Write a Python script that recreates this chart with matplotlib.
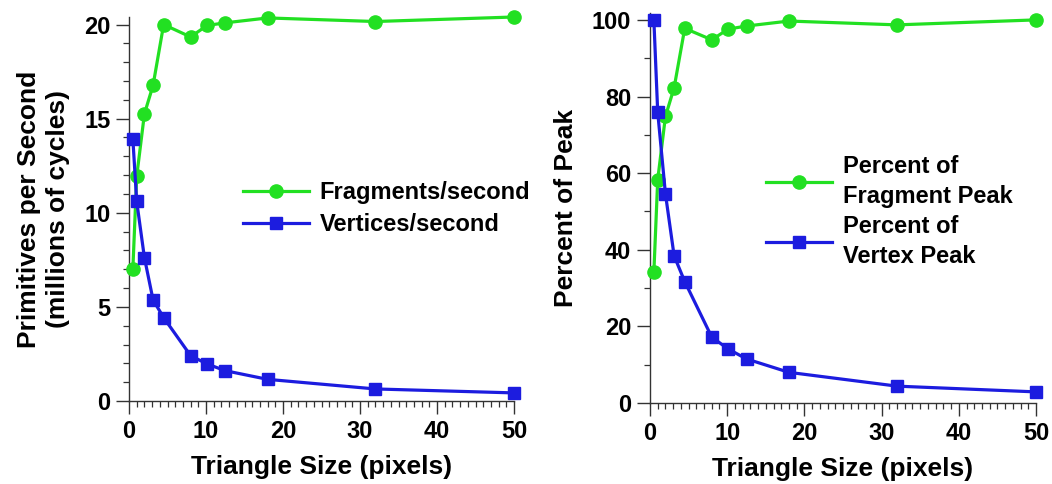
"""Fragment vs vertex throughput against triangle size, two panels."""

import matplotlib
matplotlib.use("Agg")
import matplotlib.pyplot as plt
from matplotlib.ticker import MultipleLocator

plt.rcParams["font.family"] = ["Liberation Sans", "DejaVu Sans"]
plt.rcParams["font.weight"] = "bold"

# triangle area in pixels
tri_size = [0.5, 1.0, 2.0, 3.125, 4.5, 8.0, 10.125, 12.5, 18.0, 32.0, 50.0]

# left panel: millions per second
frag_rate = [7.0, 11.93, 15.25, 16.77, 20.0, 19.34, 19.95, 20.09, 20.35, 20.16, 20.4]
vert_rate = [13.92, 10.6, 7.62, 5.37, 4.43, 2.41, 1.97, 1.61, 1.15, 0.64, 0.43]

# right panel: percent of peak
frag_pct = [34.1, 58.3, 74.8, 82.3, 97.8, 94.8, 97.6, 98.4, 99.7, 98.7, 100.0]
vert_pct = [100.0, 75.9, 54.6, 38.4, 31.7, 17.2, 14.1, 11.5, 8.0, 4.4, 2.9]

GREEN = "#22e022"
BLUE = "#1c1cdf"
W, H = 1052, 484


def px_axes(fig, x0, x1, y_top, y_bot):
    return fig.add_axes([x0 / W, (H - y_bot) / H, (x1 - x0) / W, (y_bot - y_top) / H])


def style_axes(ax, ymajor, yminor):
    for side in ("top", "right"):
        ax.spines[side].set_visible(False)
    for side in ("left", "bottom"):
        ax.spines[side].set_color("#333333")
        ax.spines[side].set_linewidth(1.0)
    ax.xaxis.set_major_locator(MultipleLocator(10))
    ax.xaxis.set_minor_locator(MultipleLocator(1))
    ax.yaxis.set_major_locator(MultipleLocator(ymajor))
    ax.yaxis.set_minor_locator(MultipleLocator(yminor))
    ax.tick_params(which="major", length=9.5, width=1.0, color="#333333",
                   direction="out", pad=4, labelsize=17)
    ax.tick_params(which="minor", length=4, width=0.9, color="#333333", direction="out")
    ax.set_xlabel("Triangle Size (pixels)", fontsize=19, fontweight="bold", labelpad=9)


def draw(ax, y_frag, y_vert, lab_frag, lab_vert):
    ax.plot(tri_size, y_frag, color=GREEN, lw=2.3, marker="o", ms=9.5,
            markeredgecolor=GREEN, label=lab_frag, clip_on=False, zorder=3)
    ax.plot(tri_size, y_vert, color=BLUE, lw=2.3, marker="s", ms=9,
            markeredgecolor=BLUE, label=lab_vert, clip_on=False, zorder=4)


def add_legend(ax, x, y, spacing):
    leg = ax.legend(loc="upper left", bbox_to_anchor=(x, y), frameon=False,
                    fontsize=17, handlelength=2.8, handletextpad=0.45,
                    labelspacing=spacing, borderpad=0, borderaxespad=0)
    for t in leg.get_texts():
        t.set_linespacing(1.4)
    return leg


fig = plt.figure(figsize=(W / 100, H / 100), dpi=100)

ax1 = px_axes(fig, 129, 514, 17, 401)
draw(ax1, frag_rate, vert_rate, "Fragments/second", "Vertices/second")
ax1.set_xlim(0, 50)
ax1.set_ylim(0, 20.4)
style_axes(ax1, 5, 1)
ax1.set_ylabel("Primitives per Second\n(millions of cycles)", fontsize=19,
               fontweight="bold", labelpad=10, linespacing=1.25)
add_legend(ax1, 0.296, 0.572, 0.36)

ax2 = px_axes(fig, 650, 1036, 13, 403)
draw(ax2, frag_pct, vert_pct, "Percent of\nFragment Peak", "Percent of\nVertex Peak")
ax2.set_xlim(0, 50)
ax2.set_ylim(0, 101.8)
style_axes(ax2, 20, 10)
ax2.set_ylabel("Percent of Peak", fontsize=19, fontweight="bold", labelpad=10)
add_legend(ax2, 0.30, 0.637, 0.3)

fig.savefig("out.png", dpi=100)
